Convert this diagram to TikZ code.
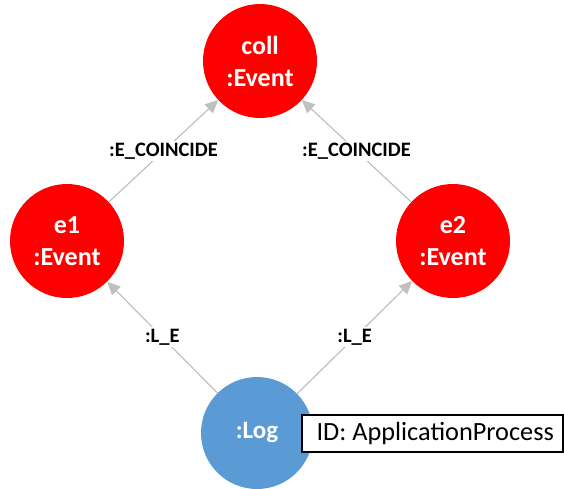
\documentclass[tikz,border=0pt]{standalone}
\usepackage{fontspec}
\setmainfont{Carlito}
\usetikzlibrary{arrows.meta}
\definecolor{evred}{HTML}{FF0000}
\definecolor{logblue}{HTML}{5B9BD5}
\definecolor{edgegray}{HTML}{C0C0C0}
\tikzset{
  evnode/.style={circle, fill=evred, minimum size=114pt, inner sep=0pt, align=center,
    text=white, font=\bfseries\fontsize{26}{32}\selectfont},
  lognode/.style={circle, fill=logblue, minimum size=112pt, inner sep=0pt,
    text=white, font=\bfseries\fontsize{25}{31}\selectfont},
  rel/.style={draw=edgegray, line width=1.2pt, -{Triangle[length=13pt,width=12pt]}},
  rellabel/.style={fill=white, inner sep=2pt, text=black, font=\bfseries\fontsize{20.5}{24}\selectfont},
  idbox/.style={draw=black, line width=1.3pt, fill=white, rectangle, inner sep=0pt},
  idtext/.style={inner sep=0pt, font=\fontsize{26.3}{30}\selectfont, text=black}
}
\begin{document}
\begin{tikzpicture}[x=1pt,y=-1pt]
\useasboundingbox (0,0) rectangle (564,488);
\node[evnode] (coll) at (260,61) {coll\\:Event};
\node[evnode] (e1) at (67,241) {e1\\:Event};
\node[evnode] (e2) at (453,241) {e2\\:Event};
\node[lognode] (log) at (257,433) {:Log};
\draw[rel] (e1) -- node[rellabel] {:E\_COINCIDE} (coll);
\draw[rel] (e2) -- node[rellabel] {:E\_COINCIDE} (coll);
\draw[rel] (log) -- node[rellabel] {:L\_E} (e1);
\draw[rel] (log) -- node[rellabel] {:L\_E} (e2);
\node[idbox, minimum width=261pt, minimum height=37pt] (id) at (432.5,433.5) {};
\node[idtext, anchor=west] (idt) at ([xshift=15pt]id.west) {ID: ApplicationProcess};
\end{tikzpicture}
\end{document}
